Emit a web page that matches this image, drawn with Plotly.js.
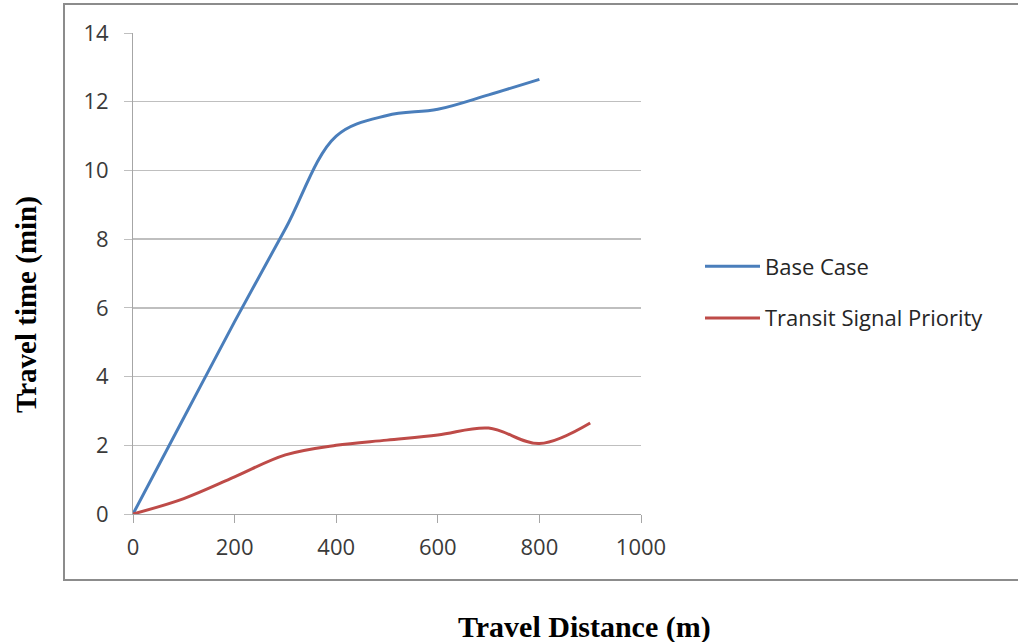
<!DOCTYPE html>
<html>
<head>
<meta charset="utf-8">
<script src="https://cdn.plot.ly/plotly-3.0.1.min.js"></script>
<style>html,body{margin:0;padding:0;background:#fff;}#chart{width:1018px;height:642px;}</style>
</head>
<body>
<div id="chart"></div>
<script>
var baseCaseX = [0, 100, 200, 300, 400, 500, 600, 700, 800];
var baseCase = [0, 2.8, 5.6, 8.3, 11.0, 11.6, 11.78, 12.2, 12.65];
var tspX = [0, 100, 200, 300, 400, 500, 600, 700, 800, 900];
var tsp = [0, 0.45, 1.08, 1.72, 2.0, 2.15, 2.3, 2.5, 2.05, 2.65];
var xTicks = [0, 200, 400, 600, 800, 1000];
var yTicks = [0, 2, 4, 6, 8, 10, 12, 14];

var L = 133, R = 641, T = 33, B = 514;
var W = 1018, H = 642;
function px(x){ return (x - L) / (R - L); }
function py(y){ return (B - y) / (B - T); }

var traces = [
  {x: baseCaseX, y: baseCase, name: 'Base Case', mode: 'lines', legendgroup: 'a',
   line: {color: '#4a7ebb', width: 3, shape: 'spline', smoothing: 1}},
  {x: tspX, y: tsp, name: 'Transit Signal Priority', mode: 'lines', legendgroup: 'b',
   line: {color: '#be4b48', width: 3, shape: 'spline', smoothing: 1}}
];

var tickFont = {family: 'Open Sans, Noto Sans, sans-serif', size: 22, color: '#3a3a3a'};
var titleFont = {family: 'Liberation Serif, Times New Roman, serif', size: 29, color: '#000000', weight: 'bold'};
var xTitleFont = {family: 'Liberation Serif, Times New Roman, serif', size: 30, color: '#000000', weight: 'bold'};

var layout = {
  width: W, height: H,
  margin: {l: L, r: W - R, t: T, b: H - B, pad: 0},
  paper_bgcolor: '#ffffff', plot_bgcolor: '#ffffff',
  font: {family: 'Open Sans, Noto Sans, sans-serif', color: '#404040', size: 17},
  xaxis: {range: [0, 1000], tickvals: xTicks, ticktext: xTicks.map(String),
    showgrid: false, zeroline: false, showline: true, linecolor: '#a6a6a6', linewidth: 1,
    ticks: 'outside', ticklen: 8, tickcolor: '#a6a6a6', tickwidth: 1, ticklabelstandoff: 6,
    tickfont: tickFont, fixedrange: true},
  yaxis: {range: [0, 14], tickvals: yTicks, ticktext: yTicks.map(String),
    showgrid: true, gridcolor: '#bfbfbf', gridwidth: 1.5, zeroline: false,
    showline: true, linecolor: '#a6a6a6', linewidth: 1,
    ticks: 'outside', ticklen: 8, tickcolor: '#bfbfbf', tickwidth: 1, ticklabelstandoff: 11,
    tickfont: tickFont, fixedrange: true},
  showlegend: true,
  legend: {x: px(700), y: py(292.5), xanchor: 'left', yanchor: 'middle',
    font: {family: 'Open Sans, Noto Sans, sans-serif', size: 22, color: '#262626'},
    tracegroupgap: 20, bgcolor: 'rgba(0,0,0,0)', itemwidth: 55},
  shapes: [
    {type: 'rect', xref: 'paper', yref: 'paper', x0: px(64), x1: px(1030), y0: py(580), y1: py(4),
     line: {color: '#8c8c8c', width: 2}, fillcolor: 'rgba(0,0,0,0)', layer: 'below'}
  ],
  annotations: [
    {text: 'Travel time (min)', xref: 'paper', yref: 'paper', x: px(26), y: py(305),
     xanchor: 'center', yanchor: 'middle', textangle: -90, showarrow: false, font: titleFont},
    {text: 'Travel Distance (m)', xref: 'paper', yref: 'paper', x: px(584), y: py(627),
     xanchor: 'center', yanchor: 'middle', showarrow: false, font: xTitleFont}
  ]
};

Plotly.newPlot('chart', traces, layout, {displayModeBar: false, staticPlot: true});
</script>
</body>
</html>
